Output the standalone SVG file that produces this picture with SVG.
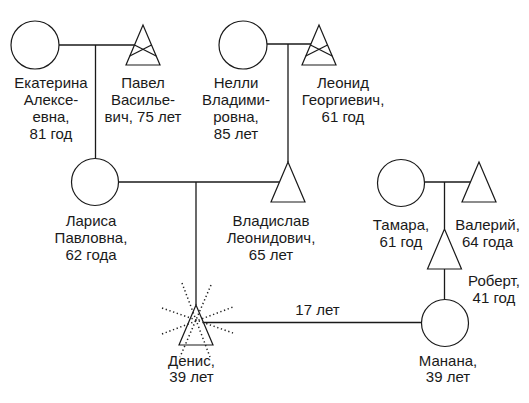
<svg xmlns="http://www.w3.org/2000/svg" width="529" height="403" viewBox="0 0 529 403">
<style>
  .ln{stroke:#1a1a1a;stroke-width:1.3;fill:none}
  .sh{stroke:#1a1a1a;stroke-width:1.2;fill:#fff}
  .dot{stroke:#222;stroke-width:1.5;stroke-dasharray:1.3 2.6;fill:none}
  text{font-family:"Liberation Sans",Arial,sans-serif;font-size:15px;fill:#1a1a1a;text-anchor:middle}
</style>
<rect width="529" height="403" fill="#fff"/>
<g id="connectors">
  <line class="ln" x1="59" y1="45" x2="134.5" y2="45"/>
  <line class="ln" x1="95.5" y1="45" x2="95.5" y2="158.5"/>
  <line class="ln" x1="267" y1="44" x2="311" y2="44"/>
  <line class="ln" x1="288" y1="44" x2="288" y2="162"/>
  <line class="ln" x1="118.5" y1="182" x2="279.5" y2="182"/>
  <line class="ln" x1="196" y1="182" x2="196" y2="305"/>
  <line class="ln" x1="203.4" y1="322.5" x2="421.5" y2="322.5"/>
  <line class="ln" x1="424.5" y1="182" x2="470.5" y2="182"/>
  <line class="ln" x1="444.5" y1="182" x2="444.5" y2="229"/>
  <line class="ln" x1="444.5" y1="269" x2="444.5" y2="299.5"/>
  <text x="317.5" y="315">17 лет</text>
</g>
<g id="ekaterina">
  <circle class="sh" cx="35" cy="45" r="24"/>
  <text x="51" y="88">Екатерина</text>
  <text x="51" y="105">Алексе-</text>
  <text x="51" y="122">евна,</text>
  <text x="51" y="139">81 год</text>
</g>
<g id="pavel">
  <polygon class="sh" points="143,25 126,65 160,65"/>
  <line class="ln" x1="134.5" y1="45" x2="156.2" y2="56"/>
  <line class="ln" x1="151.5" y1="45" x2="129.8" y2="56"/>
  <text x="143" y="88">Павел</text>
  <text x="143" y="105">Василье-</text>
  <text x="143" y="122">вич, 75 лет</text>
</g>
<g id="nelli">
  <circle class="sh" cx="243" cy="45" r="24"/>
  <text x="236" y="88">Нелли</text>
  <text x="236" y="105">Владими-</text>
  <text x="236" y="122">ровна,</text>
  <text x="236" y="139">85 лет</text>
</g>
<g id="leonid">
  <polygon class="sh" points="319,25 302,65 336,65"/>
  <line class="ln" x1="310.5" y1="45" x2="332.2" y2="56"/>
  <line class="ln" x1="327.5" y1="45" x2="305.8" y2="56"/>
  <text x="343" y="88">Леонид</text>
  <text x="343" y="105">Георгиевич,</text>
  <text x="343" y="122">61 год</text>
</g>
<g id="larisa">
  <circle class="sh" cx="95" cy="182" r="23.5"/>
  <text x="91" y="226">Лариса</text>
  <text x="91" y="243">Павловна,</text>
  <text x="91" y="260">62 года</text>
</g>
<g id="vladislav">
  <polygon class="sh" points="288,162 271,202 305,202"/>
  <text x="271" y="226">Владислав</text>
  <text x="271" y="243">Леонидович,</text>
  <text x="271" y="260">65 лет</text>
</g>
<g id="tamara">
  <circle class="sh" cx="401" cy="183" r="23.5"/>
  <text x="401" y="230">Тамара,</text>
  <text x="401" y="247">61 год</text>
</g>
<g id="valerii">
  <polygon class="sh" points="479,162 462,202 496,202"/>
  <text x="487.5" y="230">Валерий,</text>
  <text x="487.5" y="247">64 года</text>
</g>
<g id="robert">
  <polygon class="sh" points="444.5,229 427.5,269 461.5,269"/>
  <text x="494" y="286">Роберт,</text>
  <text x="494" y="303">41 год</text>
</g>
<g id="denis">
  <polygon class="sh" points="196,305 179,345 213,345"/>
  <line class="dot" x1="182" y1="283" x2="210" y2="357"/>
  <line class="dot" x1="211" y1="285" x2="180" y2="357"/>
  <line class="dot" x1="162" y1="308" x2="233" y2="333"/>
  <line class="dot" x1="162" y1="334" x2="233" y2="307"/>
  <text x="191.5" y="366">Денис,</text>
  <text x="191.5" y="382">39 лет</text>
</g>
<g id="manana">
  <circle class="sh" cx="445" cy="323" r="23.5"/>
  <text x="448" y="366">Манана,</text>
  <text x="448" y="382">39 лет</text>
</g>
</svg>
